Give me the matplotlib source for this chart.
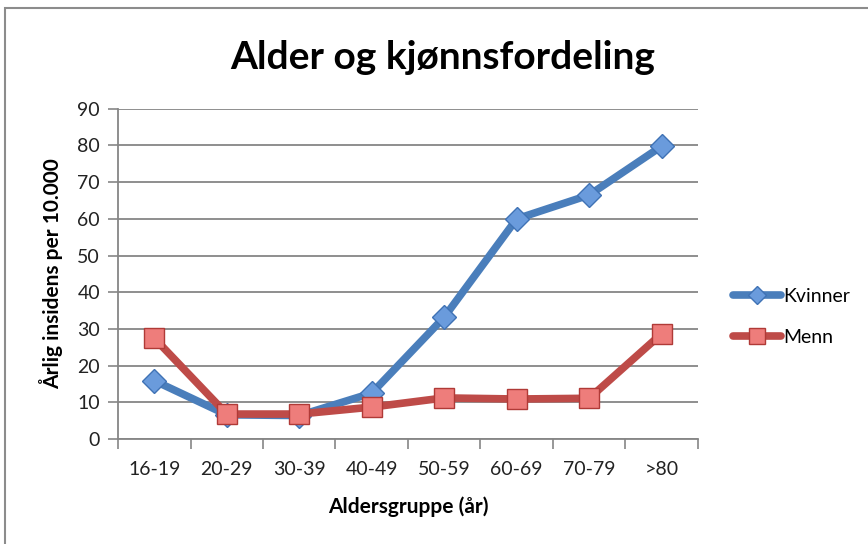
import matplotlib.pyplot as plt
from matplotlib.patches import Rectangle
import numpy as np

categories = ["16-19", "20-29", "30-39", "40-49", "50-59", "60-69", "70-79", ">80"]
kvinner = [15.9, 6.6, 6.4, 12.5, 33.2, 60.0, 66.5, 79.8]
menn = [27.5, 6.8, 6.8, 8.7, 11.2, 10.9, 11.1, 28.7]

plt.rcParams['font.family'] = ['Lato', 'DejaVu Sans']

fig = plt.figure(figsize=(8.68, 5.44), dpi=100)
ax = fig.add_axes([0.136, 0.193, 0.668, 0.607])

# chart border
fig.patches.append(Rectangle((5 / 868, -0.1), 1.2, 1 - 8 / 544 + 0.1,
                             transform=fig.transFigure, fill=False,
                             edgecolor="#8c8c8c", linewidth=1.5))

x = np.arange(len(categories))
ax.plot(x, kvinner, color="#4A7EBB", linewidth=5.5, marker="D", markersize=12,
        markerfacecolor="#6A9BDC", markeredgecolor="#3F72B5", markeredgewidth=1,
        label="Kvinner", solid_capstyle="round", zorder=3)
ax.plot(x, menn, color="#BE4B48", linewidth=5.5, marker="s", markersize=15,
        markerfacecolor="#EE7D7B", markeredgecolor="#B03A37", markeredgewidth=1,
        label="Menn", solid_capstyle="round", zorder=4)

ax.set_xlim(-0.5, len(categories) - 0.5)
ax.set_ylim(0, 90)
ax.set_yticks(range(0, 91, 10))
ax.set_xticks(x)
ax.set_xticklabels(categories)
ax.set_xticks(np.arange(-0.5, len(categories), 1), minor=True)
ax.tick_params(axis="x", which="major", length=0, pad=16, labelsize=14, colors="#222222")
ax.tick_params(axis="x", which="minor", length=7, width=1.2, color="#868686")
ax.tick_params(axis="y", length=7, width=1.2, color="#868686", labelsize=14,
               pad=6, labelcolor="#222222")

ax.grid(axis="y", color="#868686", linewidth=1.3)
ax.set_axisbelow(True)
for side in ["top", "right"]:
    ax.spines[side].set_visible(False)
for side in ["left", "bottom"]:
    ax.spines[side].set_color("#868686")
    ax.spines[side].set_linewidth(1.3)

ax.set_xlabel("Aldersgruppe (år)", fontsize=15, fontweight="bold", labelpad=13)
ax.set_ylabel("Årlig insidens per 10.000", fontsize=15, fontweight="bold", labelpad=10)
fig.text(0.51, 0.895, "Alder og kjønnsfordeling", ha="center", va="center",
         fontsize=28, fontweight="bold")

ax.legend(loc="center left", bbox_to_anchor=(1.03, 0.37), frameon=False,
          fontsize=14, handlelength=2.5, labelspacing=1.25, handletextpad=0.1,
          markerscale=0.75)

fig.savefig("out.png", dpi=100)
